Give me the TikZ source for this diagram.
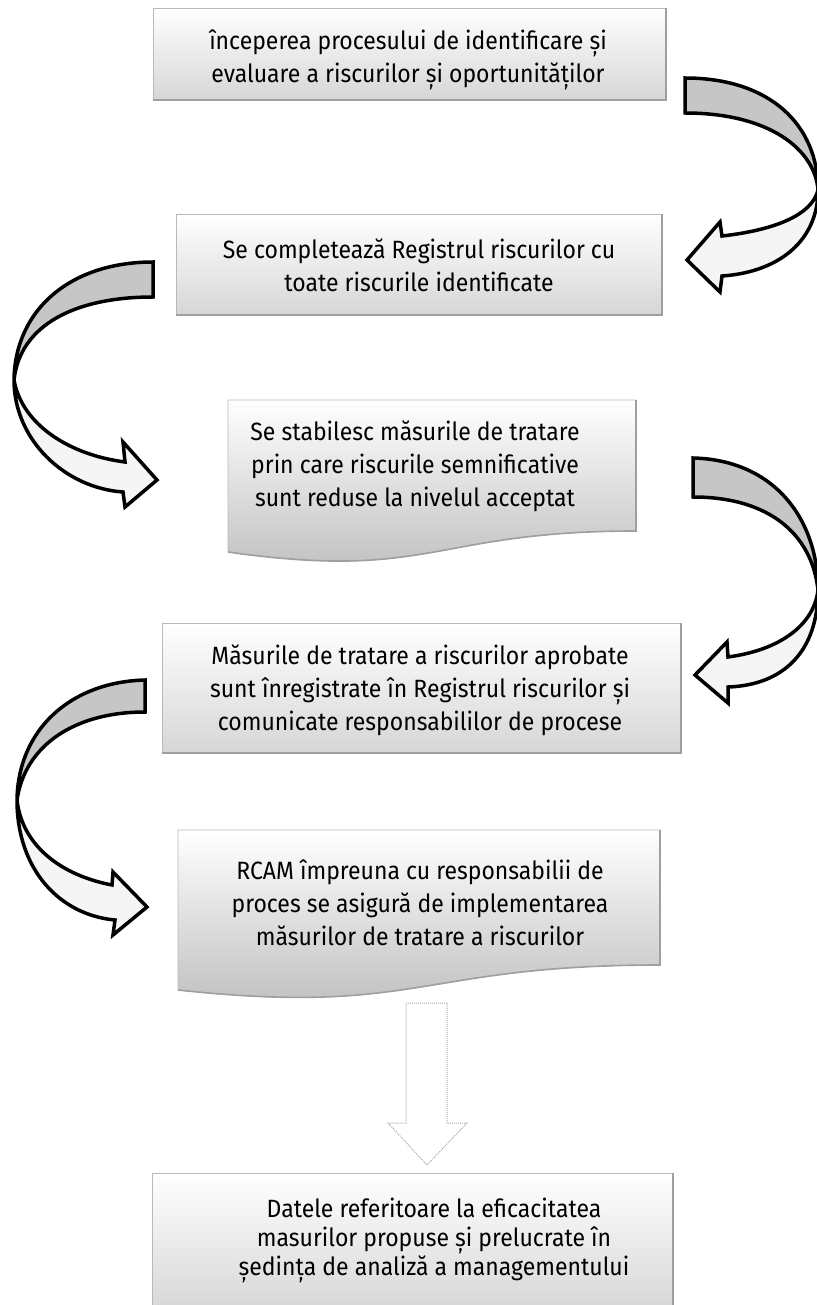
\documentclass[tikz,border=0pt]{standalone}
\usepackage{fontspec}
\setmainfont{Fira Sans}[FakeStretch=0.92]
\begin{document}
\begin{tikzpicture}[x=1pt,y=-1pt,
  boxfill/.style={top color=white,bottom color=black!16, draw=gray!55, line width=0.8pt},
  docfill/.style={top color=white,bottom color=black!26, draw=gray!55, line width=0.8pt},
  boxshade/.style={draw=gray!75, line width=1.6pt},
  txt/.style={align=center, font=\fontsize{25}{33}\selectfont, text=black, inner sep=0pt},
  backband/.style={fill=gray!45, draw=black, line width=3.5pt, line join=miter},
  frontband/.style={fill=gray!8, draw=black, line width=3.5pt, line join=miter},
  downarrow/.style={fill=white, draw=gray!65, line width=1pt, densely dotted}
]
\useasboundingbox (0,0) rectangle (816,1305);
\fill[white] (0,0) rectangle (816,1305);

% Box 1
\path[boxfill] (153,8) rectangle (666,100);
\draw[boxshade] (153,100) -- (666,100) -- (666,8);
\node[txt] (t1) at (408,60) {începerea procesului de identificare și\\evaluare a riscurilor și oportunităților};

% Box 2
\path[boxfill] (176,214) rectangle (662,315);
\draw[boxshade] (176,315) -- (662,315) -- (662,214);
\node[txt] (t2) at (419,265) {Se completează Registrul riscurilor cu\\toate riscurile identificate};

% Box 3 (document shape)
\path[docfill] (228,400) -- (636,400) -- (636,531) .. controls (432,531) and (432,581) .. (228,552) -- cycle;
\draw[boxshade] (636,400) -- (636,531) .. controls (432,531) and (432,581) .. (228,552);
\node[txt] (t3) at (415,466) {Se stabilesc măsurile de tratare\\prin care riscurile semnificative\\sunt reduse la nivelul acceptat};

% Box 4
\path[boxfill] (162,623) rectangle (681,753);
\draw[boxshade] (162,753) -- (681,753) -- (681,623);
\node[txt] (t4) at (420,690) {Măsurile de tratare a riscurilor aprobate\\sunt înregistrate în Registrul riscurilor și\\comunicate responsabililor de procese};

% Box 5 (document shape)
\path[docfill] (178,830) -- (660,830) -- (660,965) .. controls (419,965) and (419,1016) .. (178,990) -- cycle;
\draw[boxshade] (660,830) -- (660,965) .. controls (419,965) and (419,1016) .. (178,990);
\node[txt] (t5) at (420,903) {RCAM împreuna cu responsabilii de\\proces se asigură de implementarea\\măsurilor de tratare a riscurilor};

% Down arrow
\path[downarrow] (406,1003) -- (447,1003) -- (447,1123) -- (467,1123) -- (427,1165) -- (388,1123) -- (406,1123) -- cycle;

% Box 6
\path[boxfill] (152,1173) rectangle (673,1312);
\draw[boxshade] (673,1173) -- (673,1312);
\node[txt, font=\fontsize{25}{29}\selectfont] (t6) at (434,1240) {Datele referitoare la eficacitatea\\masurilor propuse și prelucrate în\\ședința de analiză a managementului};

% Curved arrow A (right)
\path[backband] (685,78) .. controls (770,78) and (818,125) .. (818,190) .. controls (815,150) and (770,113) .. (685,113) -- cycle;
\path[frontband] (818,190) .. controls (818,240) and (780,272) .. (722,276) -- (720,292) -- (687,260) -- (720,222) -- (722,236) .. controls (775,230) and (812,215) .. (818,190) -- cycle;

% Curved arrow B (left)
\path[backband] (153,262) .. controls (70,262) and (15,310) .. (14,380) .. controls (20,325) and (75,297) .. (153,297) -- cycle;
\path[frontband] (14,380) .. controls (14,440) and (65,488) .. (123,492) -- (125,507) -- (157,480) -- (123,442) -- (125,462) .. controls (70,455) and (22,425) .. (14,380) -- cycle;

% Curved arrow C (right)
\path[backband] (693,458) .. controls (775,460) and (818,520) .. (818,590) .. controls (812,535) and (770,497) .. (693,497) -- cycle;
\path[frontband] (818,590) .. controls (818,650) and (785,685) .. (728,687) -- (728,703) -- (695,675) -- (727,642) -- (728,657) .. controls (780,650) and (814,625) .. (818,590) -- cycle;

% Curved arrow D (left)
\path[backband] (145,680) .. controls (70,682) and (18,730) .. (17,800) .. controls (25,745) and (75,712) .. (145,712) -- cycle;
\path[frontband] (17,800) .. controls (17,870) and (60,915) .. (115,920) -- (113,935) -- (147,907) -- (113,872) -- (112,885) .. controls (60,875) and (22,845) .. (17,800) -- cycle;
\end{tikzpicture}
\end{document}
